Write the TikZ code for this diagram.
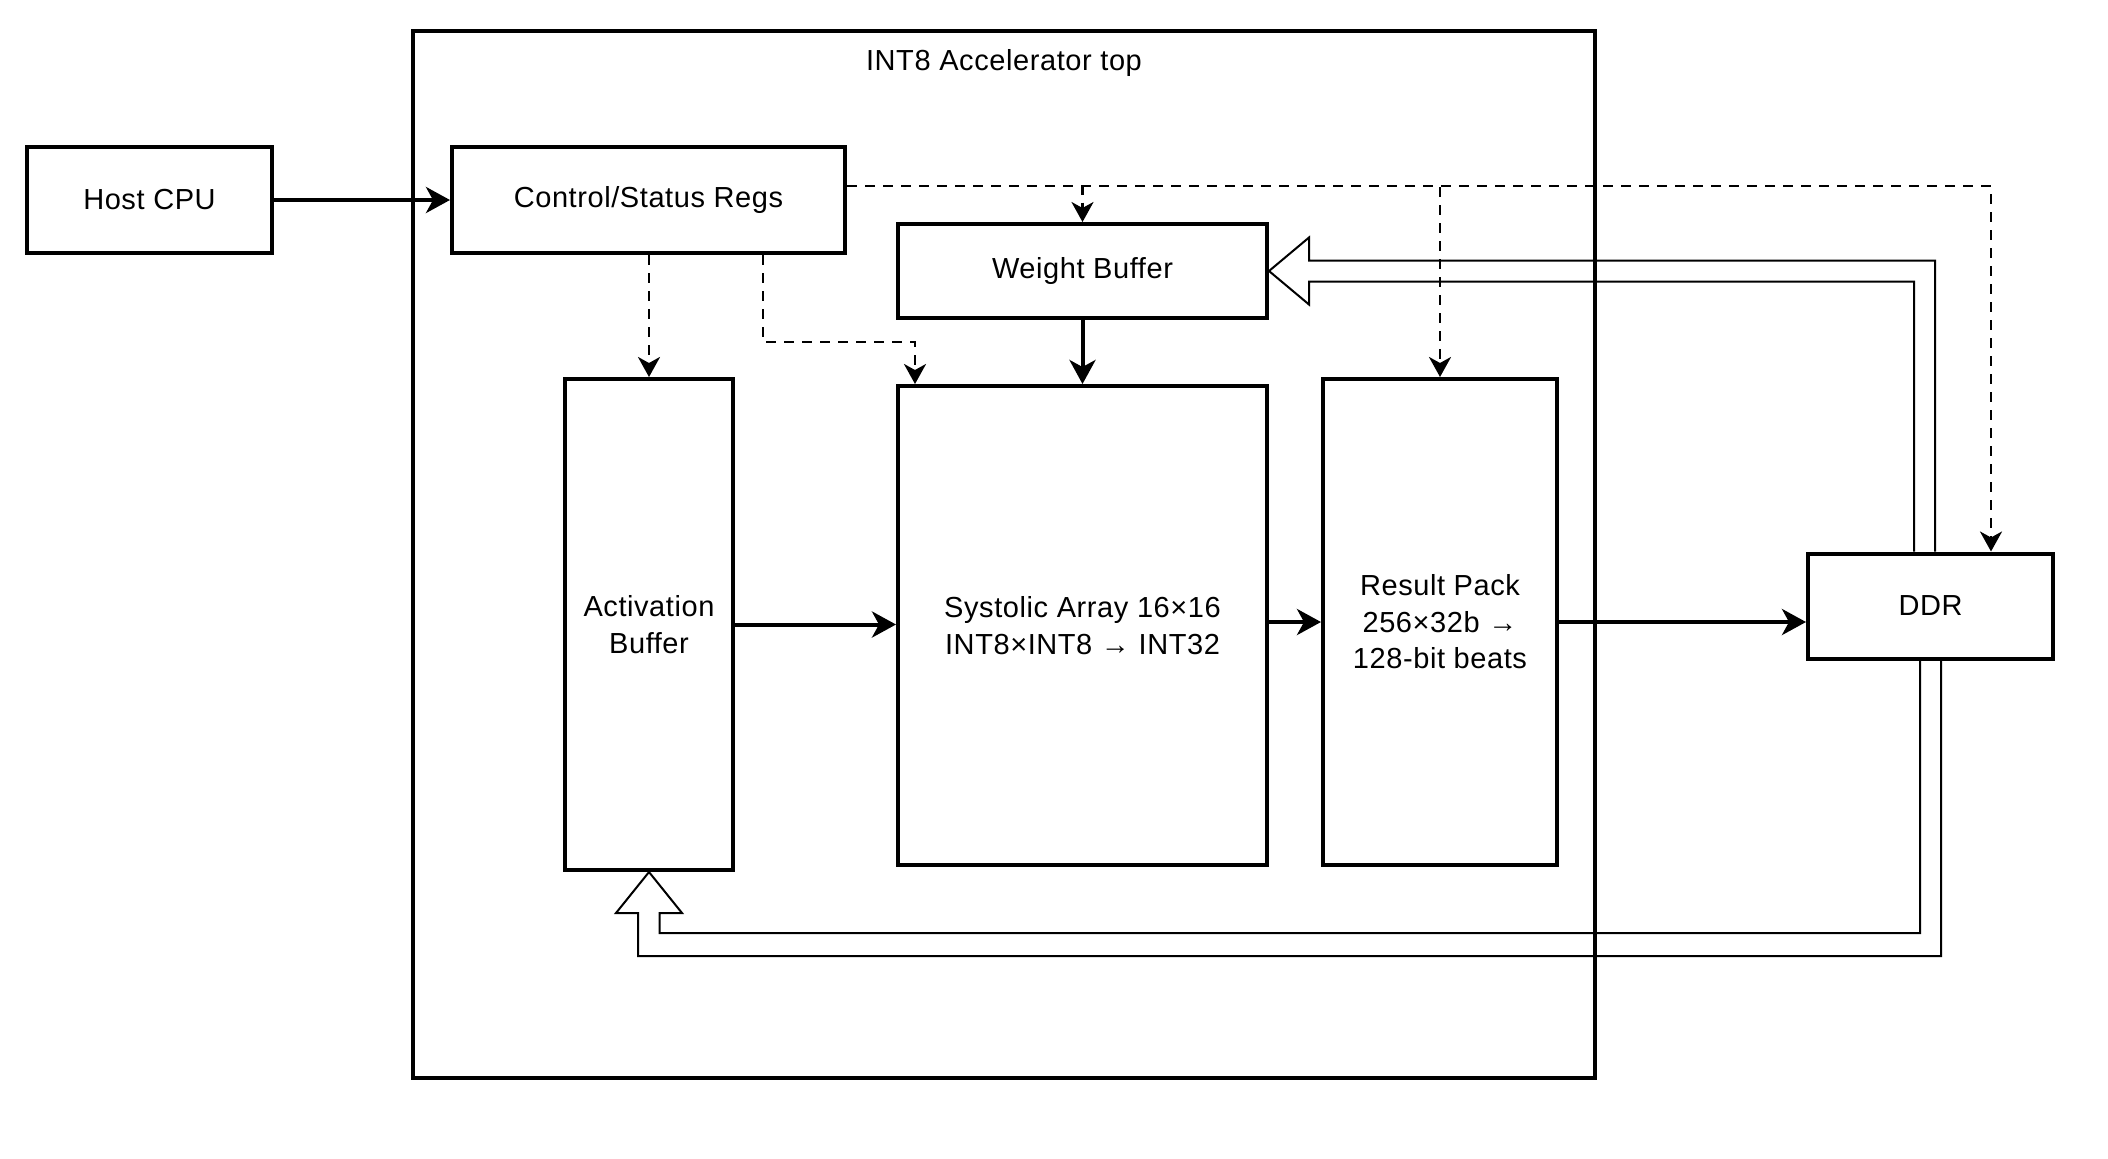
\documentclass[tikz,border=0pt]{standalone}
\usepackage{fontspec}
\setmainfont{Liberation Sans}[LetterSpace=2.0]
\usetikzlibrary{arrows.meta,calc}
\begin{document}
\begin{tikzpicture}[x=0.5pt,y=-0.5pt,
  box/.style={draw, line width=2pt, inner sep=0pt, align=center, font=\fontsize{14.5}{18.3}\selectfont},
  lbl/.style={inner sep=0pt, font=\fontsize{14.5}{18.3}\selectfont},
  solidarr/.style={line width=2pt, -{Stealth[length=12pt,width=13pt,inset=3.5pt]}},
  dsh/.style={line width=1.4pt, dash pattern=on 5pt off 4pt, -{Stealth[length=10pt,width=11pt,inset=3pt]}},
  hollow/.style={line width=1pt, line join=miter}]
\useasboundingbox (0,0) rectangle (2108,1158);
% container
\node[box, minimum width=591pt, minimum height=523.5pt] (acc) at (1004,554.5) {};
\node[lbl] (acctitle) at (1004,63) {INT8 Accelerator top};
% blocks
\node[box, minimum width=122.5pt, minimum height=53pt] (host) at (149.5,200) {Host CPU};
\node[box, minimum width=196.5pt, minimum height=53pt] (csr) at (648.5,200) {Control/Status Regs};
\node[box, minimum width=184.5pt, minimum height=47pt] (wb) at (1082.5,271) {Weight Buffer};
\node[box, minimum width=84pt, minimum height=245.5pt] (act) at (649,624.5) {Activation\\Buffer};
\node[box, minimum width=184.5pt, minimum height=239.5pt] (sys) at (1082.5,625.5) {Systolic Array 16×16\\INT8×INT8 → INT32};
\node[box, minimum width=117pt, minimum height=243pt] (res) at (1440,622) {Result Pack\\256×32b →\\128-bit beats};
\node[box, minimum width=122.5pt, minimum height=52.5pt] (ddr) at (1930.5,606) {DDR};
% solid data paths
\draw[solidarr] (host.east) -- (csr.west);
\draw[solidarr] (wb.south) -- (sys.north);
\draw[solidarr] (act.east) -- (act.east -| sys.west);
\draw[solidarr] (sys.east |- res.west) -- (res.west);
\draw[solidarr] (res.east) -- (res.east -| ddr.west);
% dashed control paths
\draw[dsh] (csr.south -| act.north) -- (act.north);
\draw[dsh] ($(csr.south)+(114.5,0)$) -- ++(0,87) -| ($(sys.north west)+(19,0)$);
\draw[dsh] ($(csr.east)+(0,-14)$) -| ($(ddr.north)+(60.5,0)$);
\draw[dsh] ($(csr.east)+(0,-14)$) -| (res.north);
\draw[dsh] ($(csr.east)+(0,-14)$) -| (wb.north);
% hollow arrows from DDR
\draw[hollow] ($(ddr.north)+(4.5,0)$) |- ($(wb.east)+(40,-10.5)$) -- ++(0,-23) -- (wb.east)
  -- ($(wb.east)+(40,33.5)$) -- ++(0,-23) -| ($(ddr.north)+(-16.5,0)$);
\draw[hollow] ($(ddr.south)+(-10.5,0)$) |- ($(act.south)+(10.5,61)$) -- ++(0,-20) -- ++(22.5,0)
  -- (act.south) -- ($(act.south)+(-33,41)$) -- ++(22,0) -- ++(0,43) -| ($(ddr.south)+(10.5,0)$);
\end{tikzpicture}
\end{document}
